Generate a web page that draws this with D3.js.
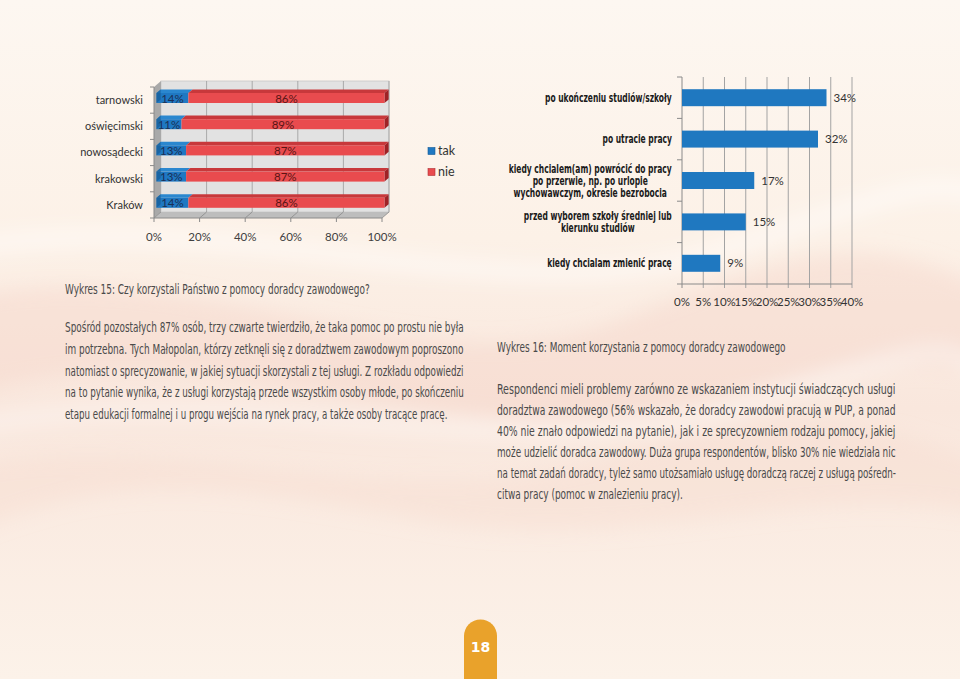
<!DOCTYPE html>
<html><head><meta charset="utf-8">
<script src="https://cdn.jsdelivr.net/npm/d3@7"></script>
<style>html,body{margin:0;padding:0;background:#fcf3ea;} svg{display:block}</style>
</head><body><svg id="c" width="960" height="679"></svg>
<script>
// ---------- data ----------
const cats15 = ["tarnowski", "oświęcimski", "nowosądecki", "krakowski", "Kraków"];
const tak15 = [14, 11, 13, 13, 14];
const nie15 = [86, 89, 87, 87, 86];
const ticks15 = [0, 20, 40, 60, 80, 100];
const legend15 = ["tak", "nie"];

const cats16 = [
  ["po ukończeniu studiów/szkoły"],
  ["po utracie pracy"],
  ["kiedy chcialem(am)  powrócić do pracy", "po przerwie, np. po urlopie", "wychowawczym, okresie bezrobocia"],
  ["przed wyborem szkoły średniej lub", "kierunku studiów"],
  ["kiedy chcialam zmienić pracę"]
];
const vals16 = [34, 32, 17, 15, 9];
const ticks16 = [0, 5, 10, 15, 20, 25, 30, 35, 40];

const caption15 = "Wykres 15: Czy korzystali Państwo z pomocy doradcy zawodowego?";
const para15 = [
  "Spośród pozostałych 87% osób, trzy czwarte twierdziło, że taka pomoc po prostu nie była",
  "im potrzebna. Tych Małopolan, którzy zetknęli się z doradztwem zawodowym poproszono",
  "natomiast o sprecyzowanie, w jakiej sytuacji skorzystali z tej usługi. Z rozkładu odpowiedzi",
  "na to pytanie wynika, że z usługi korzystają przede wszystkim osoby młode, po skończeniu",
  "etapu edukacji formalnej i u progu wejścia na rynek pracy, a także osoby tracące pracę."
];
const caption16 = "Wykres 16: Moment korzystania z pomocy doradcy zawodowego";
const para16 = [
  "Respondenci mieli problemy zarówno ze wskazaniem instytucji świadczących usługi",
  "doradztwa zawodowego (56% wskazało, że doradcy zawodowi pracują w PUP, a ponad",
  "40% nie znało odpowiedzi na pytanie), jak i ze sprecyzowniem rodzaju pomocy, jakiej",
  "może udzielić doradca zawodowy. Duża grupa respondentów, blisko 30% nie wiedziała nic",
  "na temat zadań doradcy, tyleż samo utożsamiało usługę doradczą raczej z usługą pośredn-",
  "citwa pracy (pomoc w znalezieniu pracy)."
];
const pageNo = "18";

// ---------- setup ----------
const svg = d3.select("#c");
const defs = svg.append("defs");
const bg = defs.append("linearGradient").attr("id", "bg").attr("x1", 0).attr("y1", 0).attr("x2", 0).attr("y2", 1);
bg.append("stop").attr("offset", "0%").attr("stop-color", "#fdf7f1");
bg.append("stop").attr("offset", "35%").attr("stop-color", "#fcf1e7");
bg.append("stop").attr("offset", "60%").attr("stop-color", "#f9e7dd");
bg.append("stop").attr("offset", "100%").attr("stop-color", "#fcf2e9");
const blur = defs.append("filter").attr("id", "blur").attr("x", "-20%").attr("y", "-50%").attr("width", "140%").attr("height", "200%");
blur.append("feGaussianBlur").attr("stdDeviation", 10);

svg.append("rect").attr("width", 960).attr("height", 679).attr("fill", "url(#bg)");
const waves = svg.append("g").attr("filter", "url(#blur)");
waves.append("path").attr("d", "M-50,300 C200,240 420,400 620,320 S880,230 1010,300 L1010,380 C850,330 700,430 520,420 S180,330 -50,400 Z")
  .attr("fill", "#f3cfc4").attr("opacity", 0.35);
waves.append("path").attr("d", "M-50,470 C160,420 380,520 600,460 S860,420 1010,470 L1010,520 C820,470 640,560 420,520 S120,470 -50,540 Z")
  .attr("fill", "#f4d3c8").attr("opacity", 0.3);
waves.append("path").attr("d", "M-50,250 C250,200 500,320 720,250 S920,180 1010,200")
  .attr("fill", "none").attr("stroke", "#ffffff").attr("stroke-width", 14).attr("opacity", 0.6);
waves.append("path").attr("d", "M-50,430 C230,370 520,480 760,400 S930,360 1010,380")
  .attr("fill", "none").attr("stroke", "#ffffff").attr("stroke-width", 12).attr("opacity", 0.5);

const chartFont = "Lato, 'Open Sans', sans-serif";
const narrowFont = "'Liberation Sans Narrow', 'DejaVu Sans Condensed', 'Liberation Sans', sans-serif";

// helper: horizontally squeezed text (condensed look)
function squeezed(parent, x, y, str, opts) {
  const g = parent.append("g");
  const t = g.append("text").attr("x", 0).attr("y", 0).attr("dy", "0.35em")
    .attr("font-family", opts.font).attr("font-size", opts.size).attr("fill", opts.fill)
    .attr("font-weight", opts.weight || "normal").text(str);
  const w = t.node().getComputedTextLength();
  const sx = opts.width ? opts.width / w : opts.sx;
  const W = w * sx;
  let x0 = x;
  if (opts.anchor === "end") x0 = x - W;
  else if (opts.anchor === "middle") x0 = x - W / 2;
  g.attr("transform", `translate(${x0},${y}) scale(${sx},1)`);
  return W;
}

// ---------- chart 15 (3D stacked bars) ----------
const DX = 7, DY = -6;
const x15 = d3.scaleLinear().domain([0, 100]).range([154, 382]);
const y15 = d3.scaleBand().domain(cats15).range([87, 218]).padding(0);
const yTop = 87, yBot = 218;
const g15 = svg.append("g");

g15.append("rect").attr("x", x15(0) + DX).attr("y", yTop + DY).attr("width", x15(100) - x15(0)).attr("height", yBot - yTop)
  .attr("fill", "#e2e2e2").attr("stroke", "#c8c8c8").attr("stroke-width", 0.8);
g15.append("path").attr("d", `M${x15(0)},${yTop} L${x15(0) + DX},${yTop + DY} L${x15(0) + DX},${yBot + DY} L${x15(0)},${yBot} Z`)
  .attr("fill", "#a9a9a9");
g15.append("path").attr("d", `M${x15(0)},${yBot} L${x15(0) + DX},${yBot + DY} L${x15(100) + DX},${yBot + DY} L${x15(100)},${yBot} Z`)
  .attr("fill", "#bdbdbd");
ticks15.forEach(t => {
  if (t > 0) {
    g15.append("line").attr("x1", x15(t) + DX).attr("x2", x15(t) + DX).attr("y1", yTop + DY).attr("y2", yBot + DY)
      .attr("stroke", "#9a9a9a").attr("stroke-width", 0.8);
  }
  g15.append("line").attr("x1", x15(t)).attr("x2", x15(t) + DX).attr("y1", yBot).attr("y2", yBot + DY)
    .attr("stroke", "#8a8a8a").attr("stroke-width", 0.8);
});
g15.append("line").attr("x1", x15(0)).attr("x2", x15(0)).attr("y1", yTop).attr("y2", yBot).attr("stroke", "#8a8a8a");
g15.append("line").attr("x1", x15(0)).attr("x2", x15(100)).attr("y1", yBot).attr("y2", yBot).attr("stroke", "#8a8a8a");
d3.range(cats15.length + 1).forEach(i => {
  const yy = yTop + i * y15.step();
  g15.append("line").attr("x1", x15(0) - 4).attr("x2", x15(0)).attr("y1", yy).attr("y2", yy).attr("stroke", "#8a8a8a");
});
ticks15.forEach(t => {
  g15.append("line").attr("x1", x15(t)).attr("x2", x15(t)).attr("y1", yBot).attr("y2", yBot + 4).attr("stroke", "#8a8a8a");
  g15.append("text").attr("x", x15(t)).attr("y", 237).attr("dy", "0.35em").attr("text-anchor", "middle")
    .attr("font-family", chartFont).attr("font-size", 11.5).attr("fill", "#404040").text(t + "%");
});
cats15.forEach(c => {
  g15.append("text").attr("x", 143).attr("y", y15(c) + y15.bandwidth() / 2).attr("dy", "0.35em").attr("text-anchor", "end")
    .attr("font-family", chartFont).attr("font-size", 11).attr("fill", "#333").text(c);
});
const f0 = 0.35, f1 = 0.95, BH = 10;
const colors15 = {
  tak: { front: "#1f78c2", top: "#2a87cf", side: "#14578f", text: "#1b2f55" },
  nie: { front: "#e94b4e", top: "#c8383b", side: "#9e2226", text: "#5a1515" }
};
cats15.forEach((c, i) => {
  const cy = y15(c) + y15.bandwidth() / 2;
  const segs = [
    { key: "tak", a: 0, b: tak15[i] },
    { key: "nie", a: tak15[i], b: tak15[i] + nie15[i] }
  ];
  const fy = cy - BH / 2 + f0 * DY;
  const ox = f0 * DX;
  const ddx = (f1 - f0) * DX, ddy = (f1 - f0) * DY;
  segs.forEach((s, j) => {
    const col = colors15[s.key];
    const xa = x15(s.a) + ox, xb = x15(s.b) + ox;
    g15.append("path").attr("d", `M${xa},${fy} L${xa + ddx},${fy + ddy} L${xb + ddx},${fy + ddy} L${xb},${fy} Z`).attr("fill", col.top);
    if (j === segs.length - 1) {
      g15.append("path").attr("d", `M${xb},${fy} L${xb + ddx},${fy + ddy} L${xb + ddx},${fy + ddy + BH} L${xb},${fy + BH} Z`).attr("fill", col.side);
    }
    g15.append("rect").attr("x", xa).attr("y", fy).attr("width", xb - xa).attr("height", BH).attr("fill", col.front);
    g15.append("text").attr("x", (xa + xb) / 2).attr("y", fy + BH / 2 + 0.5).attr("dy", "0.35em").attr("text-anchor", "middle")
      .attr("font-family", chartFont).attr("font-size", 11.5).attr("fill", col.text).text((s.b - s.a) + "%");
  });
  const xs = x15(0) + ox;
  g15.append("path").attr("d", `M${xs},${fy} L${xs + (f1 - f0) * DX},${fy + (f1 - f0) * DY} L${xs + (f1 - f0) * DX},${fy + (f1 - f0) * DY + BH} L${xs},${fy + BH} Z`)
    .attr("fill", "#14578f").attr("opacity", 0.6);
});
const legColors = ["#1f78c2", "#e94b4e"];
legend15.forEach((l, i) => {
  const ly = 151 + i * 21;
  g15.append("rect").attr("x", 428).attr("y", ly - 3.5).attr("width", 7).attr("height", 7).attr("fill", legColors[i])
    .attr("stroke", i ? "#b03035" : "#155a95").attr("stroke-width", 0.6);
  g15.append("text").attr("x", 438).attr("y", ly).attr("dy", "0.35em").attr("font-family", chartFont).attr("font-size", 12.5)
    .attr("fill", "#333").text(l);
});

// ---------- chart 16 ----------
const x16 = d3.scaleLinear().domain([0, 40]).range([682, 852]);
const y16 = d3.scaleBand().domain(d3.range(cats16.length)).range([77, 284]).paddingInner(0.59).paddingOuter(0.295);
const g16 = svg.append("g");
ticks16.forEach(t => {
  g16.append("line").attr("x1", x16(t)).attr("x2", x16(t)).attr("y1", 77).attr("y2", 288)
    .attr("stroke", t === 0 ? "#8a8a8a" : "#a3a3a3").attr("stroke-width", 1);
  g16.append("text").attr("x", x16(t)).attr("y", 302).attr("dy", "0.35em").attr("text-anchor", "middle")
    .attr("font-family", chartFont).attr("font-size", 11.5).attr("fill", "#333").text(t + "%");
});
g16.append("line").attr("x1", x16(0)).attr("x2", x16(40)).attr("y1", 284).attr("y2", 284).attr("stroke", "#8a8a8a");
d3.range(cats16.length + 1).forEach(i => {
  const yy = 77 + i * y16.step();
  g16.append("line").attr("x1", x16(0) - 5).attr("x2", x16(0)).attr("y1", yy).attr("y2", yy).attr("stroke", "#8a8a8a");
});
vals16.forEach((v, i) => {
  g16.append("rect").attr("x", x16(0)).attr("y", y16(i)).attr("width", x16(v) - x16(0)).attr("height", y16.bandwidth())
    .attr("fill", "#1f78c0");
  g16.append("text").attr("x", x16(v) + 7).attr("y", y16(i) + y16.bandwidth() / 2).attr("dy", "0.35em")
    .attr("font-family", chartFont).attr("font-size", 11.5).attr("fill", "#333").text(v + "%");
});
const LABEL16_SIZE = 11.5, SX16 = 0.73;
const measure = svg.append("text").attr("font-family", narrowFont).attr("font-weight", "bold").attr("font-size", LABEL16_SIZE).attr("opacity", 0);
cats16.forEach((lines, i) => {
  const cy = y16(i) + y16.bandwidth() / 2;
  const lh = 12;
  const widths = lines.map(ln => { measure.text(ln); return measure.node().getComputedTextLength() * SX16; });
  const maxW = d3.max(widths);
  const cx = 672 - maxW / 2;
  lines.forEach((ln, k) => {
    squeezed(g16, cx, cy + (k - (lines.length - 1) / 2) * lh, ln,
      { font: narrowFont, size: LABEL16_SIZE, weight: "bold", fill: "#1a1a1a", sx: SX16, anchor: "middle" });
  });
});
measure.remove();

// ---------- text blocks ----------
function block(x, y0, lh, lines, widths, size) {
  lines.forEach((ln, k) => {
    squeezed(svg, x, y0 + k * lh, ln, { font: narrowFont, size: size, fill: "#4a4a4a", width: widths[k], anchor: "start" });
  });
}
block(65, 289, 0, [caption15], [305], 14.5);
block(65, 327, 21.8, para15, [399, 399, 399, 399, 383], 14.5);
block(497, 347, 0, [caption16], [289], 14.5);
block(497, 389, 21, para16, [399, 399, 399, 399, 399, 186], 14.5);

// ---------- page tab ----------
svg.append("path").attr("d", "M464,679 L464,636 A16.5,16.5 0 0 1 497,636 L497,679 Z").attr("fill", "#e9a22b");
svg.append("text").attr("x", 480.5).attr("y", 647).attr("dy", "0.35em").attr("text-anchor", "middle")
  .attr("font-family", "'DejaVu Sans', sans-serif").attr("font-weight", "bold").attr("font-size", 14).attr("fill", "#fff").text(pageNo);
</script>
</body></html>
